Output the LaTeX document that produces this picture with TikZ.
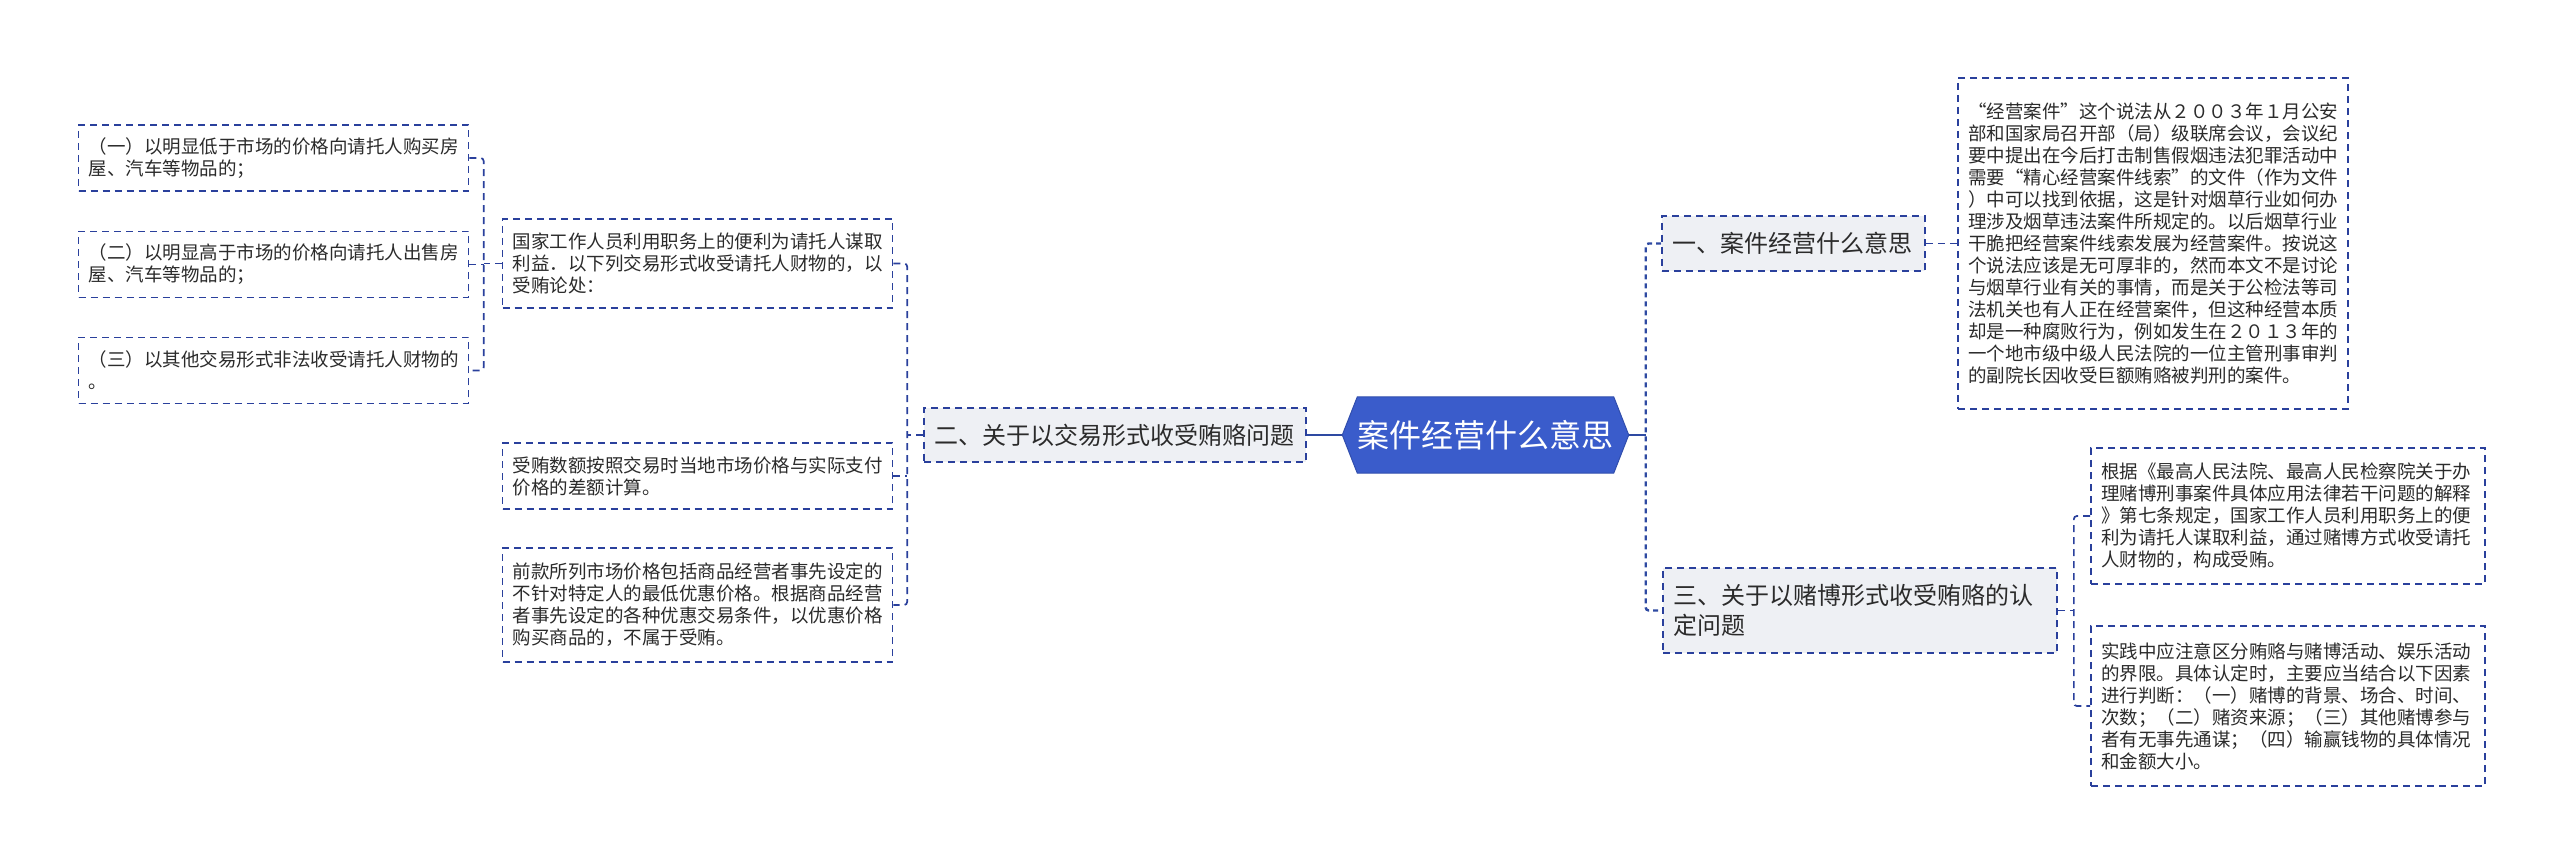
\documentclass[tikz,border=0pt]{standalone}
\usepackage{fontspec}
\setmainfont{Noto Sans CJK SC}
\usepackage{tikz}
\usetikzlibrary{backgrounds}
\usepackage{xcolor}
\definecolor{rootblue}{HTML}{3A5CCB}
\definecolor{linkblue}{HTML}{2A409C}
\definecolor{boxgray}{HTML}{EEF0F4}
\definecolor{txtgray}{HTML}{2B2B2B}

\begin{document}
\begin{tikzpicture}[x=1pt, y=-1pt,
    leaf/.style={draw=linkblue, line width=1.7pt, dash pattern=on 7pt off 5pt,
      fill=white, text=txtgray, align=left, text width=370pt,
      inner xsep=10pt, inner ysep=0pt, font=\fontsize{18.5}{22}\selectfont},
    branch/.style={draw=linkblue, line width=1.7pt, dash pattern=on 7pt off 5pt,
      fill=boxgray, text=txtgray, align=left, inner xsep=10pt, inner ysep=0pt,
      font=\fontsize{24}{30}\selectfont},
    rootbox/.style={text=white, minimum width=255pt, minimum height=76pt,
      inner sep=0pt, font=\fontsize{32}{36}\selectfont},
    link/.style={draw=linkblue, line width=1.7pt, dash pattern=on 7pt off 5pt,
      rounded corners=3pt},
    trunk/.style={draw=rootblue!80!black, line width=2.4pt},
    trunkdash/.style={trunk, dash pattern=on 5pt off 4pt, rounded corners=3pt}]
    \useasboundingbox (0,0) rectangle (2560,866);

    % centre
    \node[rootbox] (root) at (1485.5,435) {案件经营什么意思};
    \begin{scope}[on background layer]
      \filldraw[fill=rootblue, draw=rootblue!85!black, line width=1pt]
        ([xshift=-15pt]root.west) -- (root.north west) -- (root.north east)
        -- ([xshift=15pt]root.east) -- (root.south east) -- (root.south west) -- cycle;
    \end{scope}

    % left side
    \node[branch, text width=362pt, minimum height=54pt] (br2) at (1115,435)
      {二、关于以交易形式收受贿赂问题};
    \node[leaf, minimum height=89pt] (L1) at (697.5,263.5)
      {国家工作人员利用职务上的便利为请托人谋取\\利益．以下列交易形式收受请托人财物的，以\\受贿论处：};
    \node[leaf, minimum height=66pt] (L2) at (697.5,476)
      {受贿数额按照交易时当地市场价格与实际支付\\价格的差额计算。};
    \node[leaf, minimum height=114pt] (L3) at (697.5,605)
      {前款所列市场价格包括商品经营者事先设定的\\不针对特定人的最低优惠价格。根据商品经营\\者事先设定的各种优惠交易条件，以优惠价格\\购买商品的，不属于受贿。};
    \node[leaf, minimum height=66pt] (LL1) at (273.5,158)
      {（一）以明显低于市场的价格向请托人购买房\\屋、汽车等物品的；};
    \node[leaf, minimum height=66pt] (LL2) at (273.5,264.5)
      {（二）以明显高于市场的价格向请托人出售房\\屋、汽车等物品的；};
    \node[leaf, minimum height=66pt] (LL3) at (273.5,370.5)
      {（三）以其他交易形式非法收受请托人财物的\\。};

    % right side
    \node[branch, text width=243pt, minimum height=55pt] (br1) at (1793.5,243.5)
      {一、案件经营什么意思};
    \node[branch, text width=374pt, minimum height=85pt] (br3) at (1860,610.5)
      {三、关于以赌博形式收受贿赂的认\\定问题};
    \node[leaf, minimum height=331pt] (R0) at (2153,243.5)
      {“经营案件”这个说法从２００３年１月公安\\部和国家局召开部（局）级联席会议，会议纪\\要中提出在今后打击制售假烟违法犯罪活动中\\需要“精心经营案件线索”的文件（作为文件\\）中可以找到依据，这是针对烟草行业如何办\\理涉及烟草违法案件所规定的。以后烟草行业\\干脆把经营案件线索发展为经营案件。按说这\\个说法应该是无可厚非的，然而本文不是讨论\\与烟草行业有关的事情，而是关于公检法等司\\法机关也有人正在经营案件，但这种经营本质\\却是一种腐败行为，例如发生在２０１３年的\\一个地市级中级人民法院的一位主管刑事审判\\的副院长因收受巨额贿赂被判刑的案件。};
    \node[leaf, text width=374pt, minimum height=136pt] (R1) at (2288,516)
      {根据《最高人民法院、最高人民检察院关于办\\理赌博刑事案件具体应用法律若干问题的解释\\》第七条规定，国家工作人员利用职务上的便\\利为请托人谋取利益，通过赌博方式收受请托\\人财物的，构成受贿。};
    \node[leaf, text width=374pt, minimum height=160pt] (R2) at (2288,706)
      {实践中应注意区分贿赂与赌博活动、娱乐活动\\的界限。具体认定时，主要应当结合以下因素\\进行判断：（一）赌博的背景、场合、时间、\\次数；（二）赌资来源；（三）其他赌博参与\\者有无事先通谋；（四）输赢钱物的具体情况\\和金额大小。};

    % connectors
    \coordinate (jr) at ([xshift=32pt]root.east);
    \coordinate (j2) at ([xshift=-16pt]br2.west);
    \coordinate (j1) at ([xshift=-18pt]L1.west);
    \coordinate (j3) at ([xshift=16pt]br3.east);

    \draw[trunk] ([xshift=-15pt]root.west) -- (br2.east);
    \draw[trunk] ([xshift=15pt]root.east) -- (jr);
    \draw[trunkdash] (br1.west) -| (jr) |- (br3.west);

    \draw[link] (br2.west) -- (j2);
    \draw[link] (L1.east) -| (j2) |- (L3.east);
    \draw[link] (L2.east) -- (L2.east -| j2);

    \draw[link] (L1.west) -- (j1);
    \draw[link] (LL1.east) -| (j1) |- (LL3.east);
    \draw[link] (LL2.east) -- (LL2.east -| j1);

    \draw[link] (br1.east) -- (R0.west);
    \draw[link] (br3.east) -- (j3);
    \draw[link] (R1.west) -| (j3) |- (R2.west);
\end{tikzpicture}
\end{document}
